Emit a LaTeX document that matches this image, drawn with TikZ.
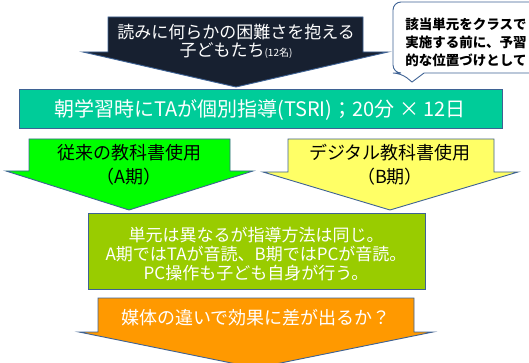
\documentclass[tikz,border=0pt]{standalone}
\usepackage{fontspec}
\setmainfont{Noto Sans CJK JP}
\newcommand\fsz[2]{\fontsize{#1}{#2}\selectfont}
\definecolor{edge}{RGB}{62,98,148}
\definecolor{darkfill}{RGB}{23,32,48}
\definecolor{tealfill}{RGB}{0,204,153}
\definecolor{limefill}{RGB}{0,255,0}
\definecolor{yellowfill}{RGB}{255,255,102}
\definecolor{olivefill}{RGB}{153,204,0}
\definecolor{orangefill}{RGB}{255,153,0}
\tikzset{
  shapeline/.style={draw=edge, line width=0.9pt, line join=miter},
  txt/.style={inner sep=0pt, align=center},
}
\begin{document}
\begin{tikzpicture}[x=1pt,y=-1pt]
\useasboundingbox (0,0) rectangle (529,363);
% top dark arrow
\draw[shapeline, fill=darkfill] (108,17) -- (363,17) -- (363,52) -- (388,52) -- (236,87) -- (83,52) -- (108,52) -- cycle;
\node[txt, text=white, font=\fsz{17}{18}] (who) at (236,41) {読みに何らかの困難さを抱える\\子どもたち{\fsz{10}{12}(12名)}};
% callout
\draw[shapeline, fill=white] (412,82) -- (424,73) [rounded corners=8pt] -- (545,73) -- (545,2) -- (393,2) -- (393,73) -- (401,73) [sharp corners] -- (412,82) -- cycle;
\node[txt, text=black, font=\fsz{13.5}{18}\bfseries] (note) at (466,42) {該当単元をクラスで\\実施する前に、予習\\的な位置づけとして};
% teal box
\node[shapeline, fill=tealfill, minimum width=483pt, minimum height=39pt, inner sep=0pt] (tsri) at (260.5,108.5) {};
\node[txt, text=white, font=\fsz{20}{22}] (tsritext) at (260,110) {朝学習時にTAが個別指導(TSRI)；20分 × 12日};
% lime arrow
\draw[shapeline, fill=limefill] (29,139) -- (230,139) -- (230,171) -- (253,171) -- (129,210) -- (6,171) -- (29,171) -- cycle;
\node[txt, text=black, font=\fsz{18}{24}] (periodA) at (129,165) {従来の教科書使用\\（A期）};
% yellow arrow
\draw[shapeline, fill=yellowfill] (288,139) -- (494,139) -- (494,172) -- (518,172) -- (390,210) -- (263,172) -- (288,172) -- cycle;
\node[txt, text=black, font=\fsz{18}{24}] (periodB) at (390,165) {デジタル教科書使用\\（B期）};
% olive box
\node[shapeline, fill=olivefill, minimum width=337pt, minimum height=76pt, inner sep=0pt] (method) at (256.5,251) {};
\node[txt, text=white, font=\fsz{17}{19}] (methodtext) at (256,254) {単元は異なるが指導方法は同じ。\\A期ではTAが音読、B期ではPCが音読。\\PC操作も子ども自身が行う。};
% orange arrow
\draw[shapeline, fill=orangefill] (98,298) -- (414,298) -- (414,332) -- (433,332) -- (256,368) -- (79,332) -- (98,332) -- cycle;
\node[txt, text=white, font=\fsz{18}{20}] (question) at (256,318) {媒体の違いで効果に差が出るか？};
\end{tikzpicture}
\end{document}
